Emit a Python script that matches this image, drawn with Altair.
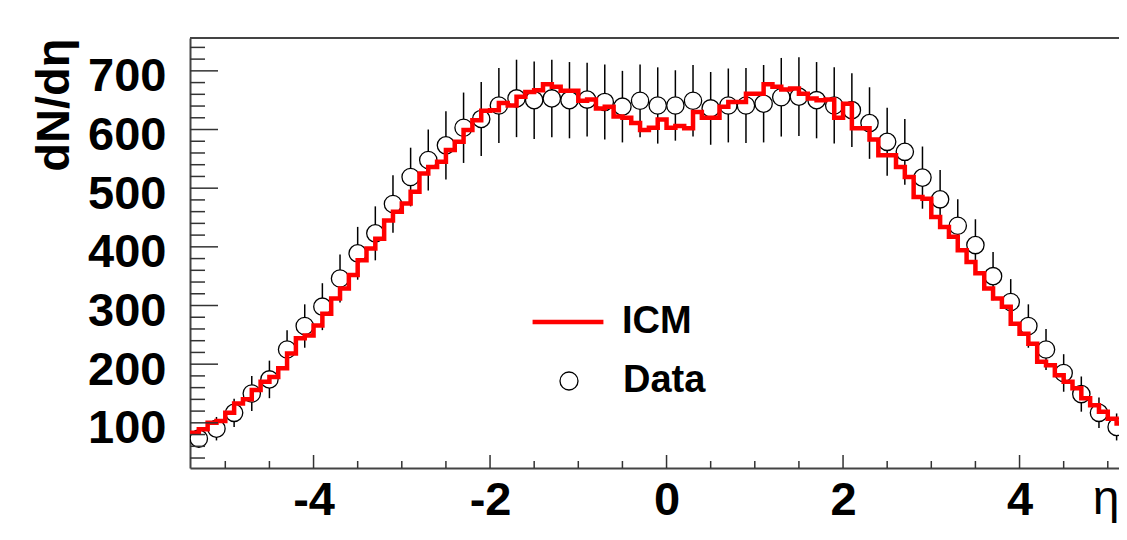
import altair as alt
import pandas as pd

# ---------------- data ----------------
data_eta = [-5.3, -5.1, -4.9, -4.7, -4.5, -4.3, -4.1, -3.9, -3.7, -3.5, -3.3, -3.1,
            -2.9, -2.7, -2.5, -2.3, -2.1, -1.9, -1.7, -1.5, -1.3, -1.1, -0.9, -0.7,
            -0.5, -0.3, -0.1, 0.1, 0.3, 0.5, 0.7, 0.9, 1.1, 1.3, 1.5, 1.7, 1.9, 2.1,
            2.3, 2.5, 2.7, 2.9, 3.1, 3.3, 3.5, 3.7, 3.9, 4.1, 4.3, 4.5, 4.7, 4.9, 5.1, 5.3]
data_y = [73, 90, 117, 150, 174, 225, 265, 298, 346, 389, 423, 473,
          519, 548, 573, 603, 618, 641, 653, 650, 653, 650, 651, 647,
          639, 649, 641, 641, 649, 636, 641, 641, 644, 655, 656, 650, 641, 633,
          611, 579, 562, 518, 481, 436, 403, 350, 306, 265, 225, 185, 149, 117, 93, 76]
data_err = [15, 20, 24, 30, 32, 33, 37, 40, 41, 45, 46, 49,
            50, 52, 58, 60, 63, 64, 66, 66, 66, 65, 63, 64,
            61, 62, 65, 60, 61, 62, 63, 64, 66, 67, 67, 65, 65, 63,
            61, 58, 56, 53, 50, 45, 44, 41, 39, 37, 35, 32, 30, 26, 23, 20]

# ICM histogram, 108 bins of width 0.1 from -5.4 to 5.4
icm_lo, icm_bw = -5.4, 0.1
icm_y = [83, 89, 100, 103, 117, 133, 140, 156, 170, 178,
         193, 218, 244, 249, 266, 286, 312, 329, 352, 377,
         397, 414, 445, 460, 474, 494, 525, 536, 545, 565,
         579, 599, 616, 632, 633, 645, 641, 656, 664, 667,
         677, 673, 666, 666, 649, 651, 636, 639, 622, 620,
         611, 599, 603, 617, 603, 606, 602, 630, 620, 620,
         639, 647, 647, 661, 661, 677, 673, 668, 670, 661,
         653, 650, 651, 620, 644, 602, 602, 583, 556, 556,
         536, 519, 485, 482, 451, 434, 417, 394, 374, 355,
         329, 312, 298, 269, 252, 235, 204, 198, 181, 170,
         159, 142, 130, 119, 107, 99, 93, 85]

x_major = [-4, -2, 0, 2, 4]
x_minor = [-5, -4.5, -3.5, -3, -2.5, -1.5, -1, -0.5, 0.5, 1, 1.5, 2.5, 3, 3.5, 4.5, 5]
y_major = [100, 200, 300, 400, 500, 600, 700]
y_minor = [40, 60, 80, 120, 140, 160, 180, 220, 240, 260, 280, 320, 340, 360, 380,
           420, 440, 460, 480, 520, 540, 560, 580, 620, 640, 660, 680, 720, 740]

# ---------------- tables ----------------
df_data = pd.DataFrame({
    "eta": data_eta,
    "y": data_y,
    "lo": [v - e for v, e in zip(data_y, data_err)],
    "hi": [v + e for v, e in zip(data_y, data_err)],
    "meas": ["Data"] * len(data_eta),
})
edges = [round(icm_lo + icm_bw * i, 2) for i in range(len(icm_y) + 1)]
df_icm = pd.DataFrame({
    "edge": edges,
    "val": icm_y + [icm_y[-1]],
    "model": ["ICM"] * len(edges),
})

# ---------------- layout / style ----------------
FONT = "Liberation Sans"
W, H = 929, 430
FRAME = "#444444"
TICK = "#333333"

xs = alt.Scale(domain=[-5.4, 5.127], nice=False, zero=False)
ys = alt.Scale(domain=[23, 756], nice=False, zero=False)

x_axis = alt.Axis(
    orient="bottom", values=x_major, ticks=False, grid=False, domain=True,
    domainColor=FRAME, domainWidth=2,
    labelExpr="'' + datum.value", labelFont=FONT, labelFontSize=47,
    labelFontWeight="bold", labelColor="black", labelPadding=9,
    title="η", titleFont=FONT, titleFontSize=48, titleFontWeight="normal",
    titleColor="black", titleX=W, titleY=45, titleAlign="right",
    titleBaseline="alphabetic",
)
y_axis = alt.Axis(
    orient="left", values=y_major, ticks=False, grid=False, domain=True,
    domainColor=FRAME, domainWidth=2,
    labelFont=FONT, labelFontSize=47, labelFontWeight="bold",
    labelColor="black", labelPadding=24, labelOffset=6,
    title="dN/dη", titleFont=FONT, titleFontSize=47, titleFontWeight="bold",
    titleColor="black", titleAngle=270, titleX=-122, titleY=0,
    titleAlign="right", titleBaseline="alphabetic",
)


def X(field):
    return alt.X(field, scale=xs, axis=x_axis)


def Y(field):
    return alt.Y(field, scale=ys, axis=y_axis)


err = alt.Chart(df_data).mark_rule(color="black", strokeWidth=1.5, clip=True).encode(
    x=X("eta:Q"), y=Y("lo:Q"), y2="hi:Q",
)

points = alt.Chart(df_data).mark_point(
    shape="circle", size=300, filled=True, fill="white", strokeWidth=1.3,
    opacity=1, clip=True,
).encode(
    x=X("eta:Q"), y=Y("y:Q"),
    stroke=alt.Stroke(
        "meas:N",
        scale=alt.Scale(domain=["Data"], range=["black"]),
        legend=alt.Legend(
            title=None, orient="none", legendX=360, legendY=324, padding=0,
            symbolType="circle", symbolOffset=0, symbolSize=324,
            symbolStrokeWidth=1.3, symbolFillColor="white",
            labelFont=FONT, labelFontSize=38, labelFontWeight="bold",
            labelColor="black", labelOffset=35,
        ),
    ),
)

line = alt.Chart(df_icm).mark_line(
    interpolate="step-after", strokeWidth=4.5, strokeJoin="miter", clip=True
).encode(
    x=X("edge:Q"), y=Y("val:Q"),
    color=alt.Color(
        "model:N",
        scale=alt.Scale(domain=["ICM"], range=["#ff0000"]),
        legend=alt.Legend(
            title=None, orient="none", legendX=359, legendY=265, padding=0,
            symbolOffset=0, symbolType="M-3.9,0H3.9", symbolSize=330,
            symbolStrokeWidth=4.5,
            labelFont=FONT, labelFontSize=38, labelFontWeight="bold",
            labelColor="black", labelOffset=35,
        ),
    ),
)


def xticks(vals, length):
    return alt.Chart(pd.DataFrame({"v": vals})).mark_rule(
        color=TICK, strokeWidth=1.5).encode(
        x=X("v:Q"), y=alt.value(H), y2=alt.value(H - length))


def yticks(vals, length):
    return alt.Chart(pd.DataFrame({"v": vals})).mark_rule(
        color=TICK, strokeWidth=1.5).encode(
        y=Y("v:Q"), x=alt.value(0), x2=alt.value(length))


top = alt.Chart(pd.DataFrame({"v": [0]})).mark_rule(color=FRAME, strokeWidth=2).encode(
    x=alt.value(0), x2=alt.value(W), y=alt.value(0))

chart = alt.layer(
    err, points, line,
    xticks(x_major, 13), xticks(x_minor, 7),
    yticks(y_major, 28), yticks(y_minor, 15),
    top,
).properties(
    width=W, height=H,
    autosize=alt.AutoSizeParams(type="none"),
    padding={"left": 182, "top": 30, "right": 0, "bottom": 55},
    background="white",
).configure_view(stroke=None, strokeWidth=0)

chart.save("out.html", embed_options={"renderer": "svg", "actions": False})
